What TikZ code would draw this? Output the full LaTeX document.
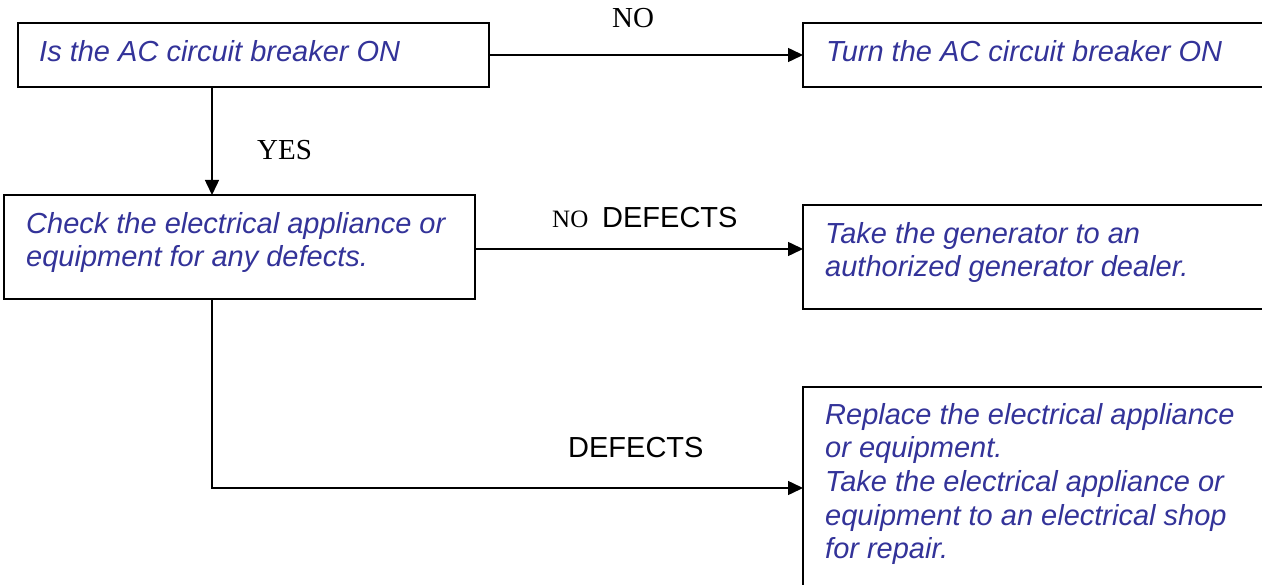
\documentclass[tikz,border=0pt]{standalone}
\usepackage{fontspec}
\setmainfont{Liberation Serif}
\newfontfamily\arialfont{Liberation Sans}
\usetikzlibrary{arrows.meta}
\definecolor{stepblue}{RGB}{51,51,153}
\tikzset{
  box/.style={draw, line width=2pt, rectangle, anchor=north west, inner sep=0pt, outer sep=0pt},
  boxtext/.style={anchor=north west, inner sep=0pt, align=left, text=stepblue,
    font=\arialfont\itshape\fontsize{29}{33.6}\selectfont},
  conn/.style={line width=1.5pt, -{Triangle[length=15pt,width=14pt]}},
  serlabel/.style={anchor=base west, inner sep=0pt, font=\fontsize{29}{33}\selectfont},
  sanslabel/.style={anchor=base west, inner sep=0pt, font=\arialfont\fontsize{29}{33}\selectfont}
}
\newcommand{\topstrut}{\rule{0pt}{24pt}}
\begin{document}
\begin{tikzpicture}[x=1pt,y=-1pt]
\useasboundingbox (0,0) rectangle (1262,585);
\clip (0,0) rectangle (1262,585);
\fill[white] (0,0) rectangle (1262,585);

% boxes
\node[box, minimum width=471pt, minimum height=64pt] (q1) at (18,23) {};
\node[box, minimum width=477pt, minimum height=64pt] (a1) at (803,23) {};
\node[box, minimum width=471pt, minimum height=104pt] (q2) at (4,195) {};
\node[box, minimum width=477pt, minimum height=104pt] (a2) at (803,205) {};
\node[box, minimum width=477pt, minimum height=202pt] (a3) at (803,387) {};

% box texts
\node[boxtext] (q1t) at (39,37) {\topstrut Is the AC circuit breaker ON};
\node[boxtext] (a1t) at (826,37) {\topstrut Turn the AC circuit breaker ON};
\node[boxtext] (q2t) at (26,209) {\topstrut Check the electrical appliance or\\equipment for any defects.};
\node[boxtext] (a2t) at (825,219) {\topstrut Take the generator to an\\authorized generator dealer.};
\node[boxtext] (a3t) at (825,400) {\topstrut Replace the electrical appliance\\or equipment.\\Take the electrical appliance or\\equipment to an electrical shop\\for repair.};

% connectors
\coordinate (vx) at (212,0);
\draw[conn] (q1.east) -- (a1.west);
\draw[conn] (q1.south -| vx) -- (q2.north -| vx);
\draw[conn] ([yshift=-2pt]q2.east) -- ([yshift=-2pt]q2.east -| a2.west);
\draw[conn] (q2.south -| vx) |- (a3.west);

% labels
\node[serlabel] (lno) at (612,28) {NO};
\node[serlabel] (lyes) at (257,160) {YES};
\node[serlabel, font=\fontsize{25}{30}\selectfont] (lno2) at (552,228) {NO};
\node[sanslabel] (ldef1) at (602,228) {DEFECTS};
\node[sanslabel] (ldef2) at (568,457) {DEFECTS};
\end{tikzpicture}
\end{document}
